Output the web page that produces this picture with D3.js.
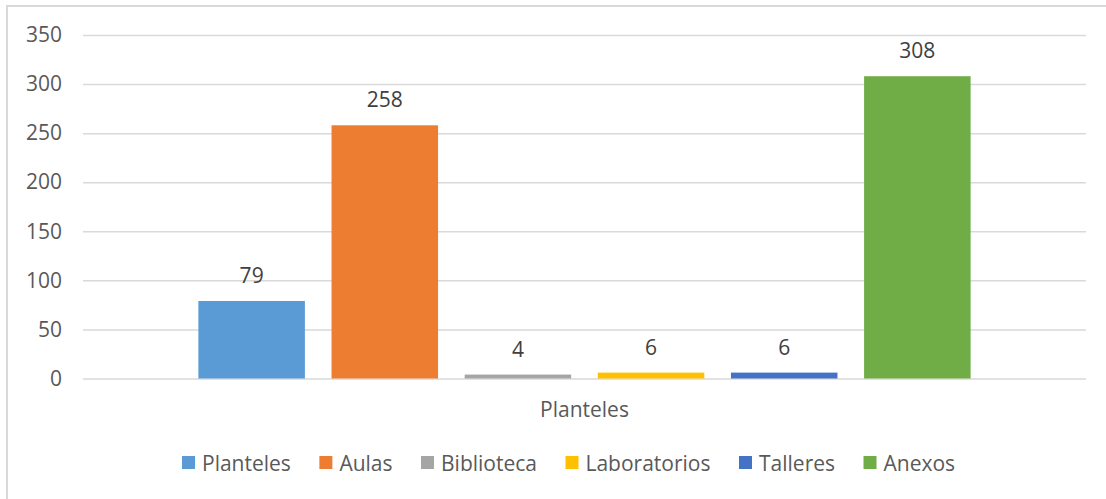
<!DOCTYPE html>
<html>
<head>
<meta charset="utf-8">
<script src="https://cdn.jsdelivr.net/npm/d3@7"></script>
<style>
  html, body { margin: 0; padding: 0; background: #fff; }
  svg { display: block; font-family: "Open Sans", sans-serif; }
</style>
</head>
<body>
<div id="chart"></div>
<script>
'use strict';

const category = ['Planteles'];
const series = ['Planteles', 'Aulas', 'Biblioteca', 'Laboratorios', 'Talleres', 'Anexos'];
const values = [79, 258, 4, 6, 6, 308];
const colors = ['#5b9bd5', '#ed7d31', '#a5a5a5', '#ffc000', '#4472c4', '#70ad47'];
const yTicks = [0, 50, 100, 150, 200, 250, 300, 350];

const W = 1106, H = 499;
const $svg = d3.select('#chart').append('svg').attr('width', W).attr('height', H);

// chart border (right and bottom edges fall outside the picture)
$svg.append('rect')
  .attr('x', 7).attr('y', 6)
  .attr('width', W + 20).attr('height', H + 20)
  .attr('fill', 'none').attr('stroke', '#d9d9d9').attr('stroke-width', 2);

const plot = { left: 83, right: 1086, top: 35, bottom: 378.5 };

const y = d3.scaleLinear().domain([0, 350]).range([plot.bottom, plot.top]);
const x0 = d3.scaleBand().domain(category).range([plot.left, plot.right])
  .paddingInner(0.13).paddingOuter(0.13);
const x1 = d3.scaleBand().domain(series).range([0, x0.bandwidth()]).paddingInner(0.2);

// gridlines
const yAxis = d3.axisLeft(y).tickValues(yTicks).tickSize(-(plot.right - plot.left)).tickPadding(21);
const $gy = $svg.append('g')
  .attr('transform', 'translate(' + plot.left + ',0)')
  .call(yAxis);
$gy.select('.domain').remove();
$gy.selectAll('.tick line').attr('stroke', '#d9d9d9').attr('stroke-width', 1.5);
$gy.selectAll('.tick text')
  .attr('fill', '#595959').attr('font-size', 21)
  .attr('font-family', '"Open Sans", sans-serif');

// bars
const data = series.map((s, i) => ({ name: s, value: values[i], color: colors[i] }));
const $bars = $svg.append('g')
  .attr('transform', 'translate(' + x0(category[0]) + ',0)');

$bars.selectAll('.bar')
  .data(data)
  .enter()
  .append('rect')
  .attr('class', 'bar')
  .attr('x', (d) => x1(d.name))
  .attr('y', (d) => y(d.value))
  .attr('width', x1.bandwidth())
  .attr('height', (d) => y(0) - y(d.value))
  .attr('fill', (d) => d.color);

$bars.selectAll('.label')
  .data(data)
  .enter()
  .append('text')
  .attr('class', 'label')
  .attr('x', (d) => x1(d.name) + x1.bandwidth() / 2)
  .attr('y', (d) => y(d.value) - 18)
  .attr('text-anchor', 'middle')
  .attr('fill', '#404040')
  .attr('font-size', 21)
  .text((d) => d.value);

// category axis label
$svg.append('text')
  .attr('x', x0(category[0]) + x0.bandwidth() / 2)
  .attr('y', 417)
  .attr('text-anchor', 'middle')
  .attr('fill', '#595959')
  .attr('font-size', 21)
  .text(category[0]);

// legend
const $legend = $svg.append('g').attr('transform', 'translate(182,463)');
let lx = 0;
data.forEach((d) => {
  const $item = $legend.append('g').attr('transform', 'translate(' + lx + ',0)');
  $item.append('rect')
    .attr('x', 0).attr('y', -7)
    .attr('width', 13).attr('height', 13)
    .attr('fill', d.color);
  const $t = $item.append('text')
    .attr('x', 20).attr('y', 7.5)
    .attr('fill', '#595959')
    .attr('font-size', 21)
    .text(d.name);
  lx += 20 + $t.node().getComputedTextLength() + 28.5;
});
</script>
</body>
</html>
